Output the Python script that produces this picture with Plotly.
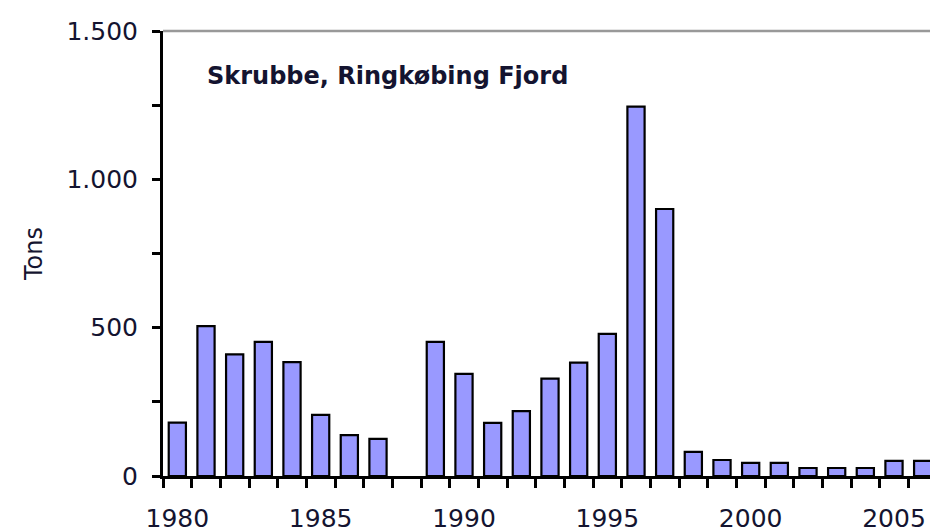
import plotly.graph_objects as go

years = list(range(1980, 2007))
tons = [180, 505, 410, 452, 384, 206, 138, 125, None, 452, 344, 179, 219,
        328, 382, 479, 1245, 900, 81, 54, 44, 44, 27, 27, 27, 51, 51]
xtick_vals = [1980, 1985, 1990, 1995, 2000, 2005]
ytick_vals = [0, 500, 1000, 1500]
ytick_text = ["0", "500", "1.000", "1.500"]
title_text = "Skrubbe, Ringkøbing Fjord"
ylabel = "Tons"

font_family = "DejaVu Sans, Verdana, sans-serif"
txt_color = "#141430"

fig = go.Figure()
fig.add_trace(go.Bar(
    x=years, y=tons, width=0.6,
    marker=dict(color="#9999FF", line=dict(color="black", width=2.2)),
))

fig.update_layout(
    width=930, height=524,
    margin=dict(l=155, r=1, t=23, b=56),
    paper_bgcolor="white", plot_bgcolor="white",
    showlegend=False,
    font=dict(family=font_family, size=25, color=txt_color),
    xaxis=dict(
        range=[1979.5, 2006.5], automargin=False,
        tickvals=xtick_vals, ticks="",
        showgrid=False, zeroline=False,
        showline=True, linecolor="black", linewidth=3,
        tickfont=dict(size=25, color=txt_color),
        minor=dict(tick0=1979.5, dtick=1, ticks="outside", ticklen=9,
                   tickwidth=2.5, tickcolor="black", showgrid=False),
        ticklabelstandoff=18,
    ),
    yaxis=dict(
        range=[0, 1500], automargin=False,
        tickvals=ytick_vals, ticktext=ytick_text,
        ticks="outside", ticklen=8, tickwidth=2.5, tickcolor="black",
        showgrid=False, zeroline=False,
        showline=True, linecolor="black", linewidth=3,
        tickfont=dict(size=25, color=txt_color),
        minor=dict(dtick=250, ticks="outside", ticklen=8, tickwidth=2.5,
                   tickcolor="black", showgrid=False),
        ticklabelstandoff=9,
        title=dict(text=ylabel, font=dict(size=24, color=txt_color), standoff=18),
    ),
    shapes=[
        dict(type="line", xref="paper", yref="paper", x0=0, x1=1, y0=1, y1=1,
             line=dict(color="#999999", width=2.5)),
        dict(type="line", xref="paper", yref="paper", x0=1, x1=1, y0=0, y1=1,
             line=dict(color="#cccccc", width=1.5)),
    ],
    annotations=[
        dict(text="<b>" + title_text + "</b>", xref="paper", yref="paper",
             x=0.054, y=0.9, xanchor="left", yanchor="middle", showarrow=False,
             font=dict(size=24, color=txt_color)),
    ],
)

fig.write_html("out.html")
